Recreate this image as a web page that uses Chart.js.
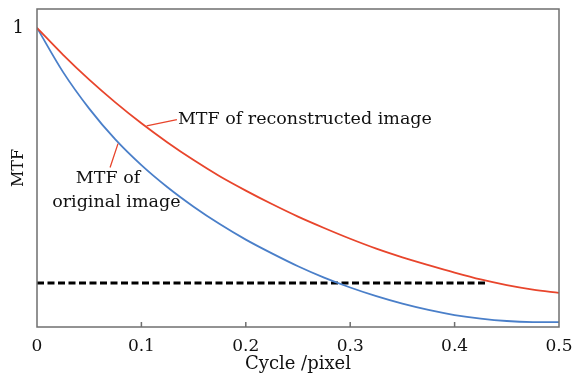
<!DOCTYPE html>
<html>
<head>
<meta charset="utf-8">
<script src="https://cdn.jsdelivr.net/npm/chart.js@4/dist/chart.umd.min.js"></script>
<style>
    html, body { margin: 0; padding: 0; background: #fff; }
    #wrap { width: 580px; height: 379px; }
</style>
</head>
<body>
<div id="wrap"><canvas id="mtf"></canvas></div>
<script>
// spatial frequency (cycle/pixel)
let freqs        = [0, 0.025, 0.05, 0.075, 0.1, 0.125, 0.15, 0.175, 0.2, 0.225, 0.25,
                    0.275, 0.3, 0.325, 0.35, 0.375, 0.4, 0.425, 0.45, 0.475, 0.5]
let mtfRecon     = [1, 0.91, 0.827, 0.751, 0.681, 0.617, 0.558, 0.504, 0.456, 0.411, 0.369,
                    0.331, 0.295, 0.262, 0.233, 0.207, 0.182, 0.159, 0.14, 0.125, 0.114]
let mtfOriginal  = [1, 0.852, 0.73, 0.627, 0.541, 0.467, 0.402, 0.344, 0.292, 0.246, 0.203,
                    0.165, 0.132, 0.103, 0.078, 0.057, 0.04, 0.028, 0.02, 0.0165, 0.016]
let thresholdX   = [0, 0.431]
let thresholdY   = [0.147, 0.147]
let xTicks       = [0, 0.1, 0.2, 0.3, 0.4, 0.5]
let yTicks       = [1]

const serif = '"DejaVu Serif", "Liberation Serif", serif'

function points(xs, ys) {
    return xs.map((x, i) => ({ x: x, y: ys[i] }))
}

// frame, inner ticks and the callout labels
const decorations = {
    id: 'decorations',
    afterDatasetsDraw(chart) {
        let ctx  = chart.ctx
        let area = chart.chartArea
        let sx   = chart.scales.x
        let sy   = chart.scales.y
        let px   = (v) => sx.getPixelForValue(v)
        let py   = (v) => sy.getPixelForValue(v)

        ctx.save()
        ctx.strokeStyle = '#6f6f6f'
        ctx.lineWidth   = 1.5
        ctx.strokeRect(area.left, area.top, area.right - area.left, area.bottom - area.top)

        ctx.beginPath()
        xTicks.slice(1, -1).forEach((t) => {
            ctx.moveTo(px(t), area.bottom)
            ctx.lineTo(px(t), area.bottom - 5)
        })
        ctx.stroke()

        ctx.strokeStyle = '#e8452c'
        ctx.lineWidth   = 1.3
        ctx.beginPath()
        ctx.moveTo(px(0.105), py(0.672))
        ctx.lineTo(px(0.134), py(0.693))
        ctx.moveTo(px(0.0776), py(0.613))
        ctx.lineTo(px(0.070), py(0.533))
        ctx.stroke()

        ctx.fillStyle    = '#111'
        ctx.font         = '17.5px ' + serif
        ctx.textBaseline = 'middle'
        ctx.textAlign    = 'left'
        ctx.fillText('MTF of reconstructed image', px(0.135), py(0.695))
        ctx.textAlign    = 'center'
        ctx.fillText('MTF of', px(0.068), py(0.497))
        ctx.fillText('original image', px(0.076), py(0.417))
        ctx.restore()
    }
}

new Chart(document.getElementById('mtf'), {
    type: 'line',
    data: {
        datasets: [
            {
                label: 'MTF of reconstructed image',
                data: points(freqs, mtfRecon),
                borderColor: '#e8452c',
                borderWidth: 1.8,
                pointRadius: 0,
                cubicInterpolationMode: 'monotone'
            },
            {
                label: 'MTF of original image',
                data: points(freqs, mtfOriginal),
                borderColor: '#4a7fc9',
                borderWidth: 1.8,
                pointRadius: 0,
                cubicInterpolationMode: 'monotone'
            },
            {
                label: 'threshold',
                data: points(thresholdX, thresholdY),
                borderColor: '#000',
                borderWidth: 3,
                borderDash: [7, 3.5],
                pointRadius: 0
            }
        ]
    },
    options: {
        responsive: true,
        maintainAspectRatio: false,
        animation: false,
        layout: { padding: { top: 9, right: 21, left: 0, bottom: 0 } },
        plugins: {
            legend: { display: false },
            tooltip: { enabled: false }
        },
        scales: {
            x: {
                type: 'linear',
                min: 0,
                max: 0.5,
                grid: { display: false },
                border: { display: false },
                afterBuildTicks: (axis) => { axis.ticks = xTicks.map((v) => ({ value: v })) },
                afterFit: (axis) => { axis.height = 52 },
                ticks: {
                    color: '#111',
                    padding: 1,
                    maxRotation: 0,
                    font: { family: serif, size: 17 },
                    callback: (v) => String(v)
                },
                title: {
                    display: true,
                    text: 'Cycle /pixel',
                    color: '#111',
                    padding: { top: 4 },
                    font: { family: serif, size: 18 }
                }
            },
            y: {
                type: 'linear',
                min: 0,
                max: 1.063,
                grid: { display: false },
                border: { display: false },
                afterBuildTicks: (axis) => { axis.ticks = yTicks.map((v) => ({ value: v })) },
                afterFit: (axis) => {
                    axis.width      = 37
                    axis.paddingTop = 0
                },
                ticks: {
                    color: '#111',
                    padding: 5,
                    font: { family: serif, size: 18 },
                    callback: (v) => String(v)
                },
                title: {
                    display: true,
                    text: 'MTF',
                    color: '#111',
                    padding: { top: 9, bottom: 0 },
                    font: { family: serif, size: 16 }
                }
            }
        }
    },
    plugins: [decorations]
})
</script>
</body>
</html>
